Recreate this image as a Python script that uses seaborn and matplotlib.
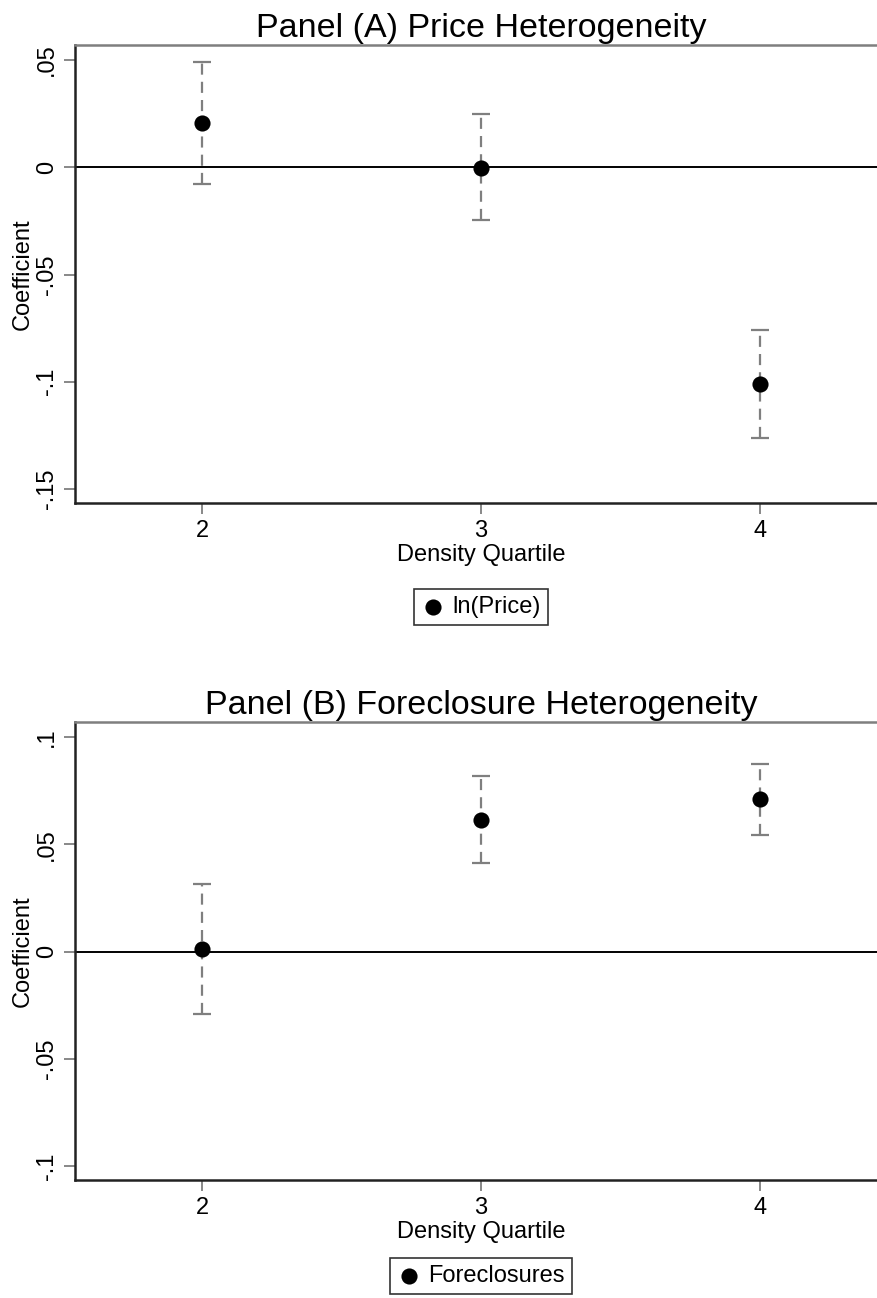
import matplotlib
matplotlib.use("Agg")
import matplotlib.pyplot as plt
import seaborn as sns
import pandas as pd

sns.set_theme(style="white")
plt.rcParams["font.family"] = ["Liberation Sans", "DejaVu Sans"]
plt.rcParams["text.color"] = "black"
plt.rcParams["axes.labelcolor"] = "black"
plt.rcParams["xtick.color"] = "black"
plt.rcParams["ytick.color"] = "black"

# Density quartiles on the x axis
quartiles = [2, 3, 4]

# Panel A: ln(Price) coefficients and 95% confidence bounds
price_coef = [0.0206, -0.0003, -0.1010]
price_lo = [-0.0079, -0.0248, -0.1262]
price_hi = [0.0490, 0.0248, -0.0757]

# Panel B: foreclosure coefficients and 95% confidence bounds
fore_coef = [0.0014, 0.0615, 0.0709]
fore_lo = [-0.0289, 0.0415, 0.0545]
fore_hi = [0.0313, 0.0816, 0.0876]

price_ticks = [0.05, 0.0, -0.05, -0.1, -0.15]
price_ticklabels = [".05", "0", "-.05", "-.1", "-.15"]
fore_ticks = [0.1, 0.05, 0.0, -0.05, -0.1]
fore_ticklabels = [".1", ".05", "0", "-.05", "-.1"]

W, H = 878, 1298
fig = plt.figure(figsize=(W / 100, H / 100), dpi=100)

def px_axes(left, top, right, bottom):
    return fig.add_axes([left / W, 1 - bottom / H, (right - left) / W, (bottom - top) / H])

ax_a = px_axes(75, 45, 887, 503)
ax_b = px_axes(75, 722, 887, 1180)

GRAY = "#7f7f7f"
FS = 17

def draw_panel(ax, coef, lo, hi, label, title, ylim, ticks, ticklabels, leg_y):
    df = pd.DataFrame({"q": quartiles, "coef": coef, "lo": lo, "hi": hi})
    ax.axhline(0, color="black", lw=1.4, zorder=1)
    eb = ax.errorbar(df["q"], df["coef"],
                     yerr=[df["coef"] - df["lo"], df["hi"] - df["coef"]],
                     fmt="none", ecolor=GRAY, elinewidth=1.6, capsize=6.5,
                     capthick=1.6, zorder=2)
    for coll in eb[2]:
        coll.set_linestyle((0, (5, 3.2)))
    sns.scatterplot(data=df, x="q", y="coef", ax=ax, color="black", s=135,
                    edgecolor="black", linewidth=0, label=label, zorder=3)
    ax.set_xlim(1.545, 4.455)
    ax.set_ylim(*ylim)
    ax.set_xticks(quartiles)
    ax.set_xticklabels([str(q) for q in quartiles], fontsize=FS)
    ax.set_yticks(ticks)
    ax.set_yticklabels(ticklabels, fontsize=FS, rotation=90, va="center")
    ax.tick_params(axis="both", direction="out", length=8, width=1.3,
                   color=GRAY, left=True, bottom=True, pad=4)
    for s in ["left", "bottom"]:
        ax.spines[s].set_color("#222222")
        ax.spines[s].set_linewidth(1.8)
    ax.spines["top"].set_color(GRAY)
    ax.spines["top"].set_linewidth(1.8)
    ax.spines["right"].set_visible(False)
    ax.set_xlabel("Density Quartile", fontsize=FS, labelpad=2)
    ax.set_ylabel("Coefficient", fontsize=FS, labelpad=2)
    ax.set_title(title, fontsize=24.5, pad=6)
    leg = ax.legend(loc="upper center", bbox_to_anchor=(0.5, leg_y),
                    fontsize=FS, frameon=True, fancybox=False,
                    edgecolor="black", handletextpad=0.3, borderpad=0.3,
                    handlelength=1.0, markerscale=1.0)
    leg.get_frame().set_linewidth(1.2)

draw_panel(ax_a, price_coef, price_lo, price_hi, "ln(Price)",
           "Panel (A) Price Heterogeneity", (-0.1565, 0.057),
           price_ticks, price_ticklabels, -0.162)
draw_panel(ax_b, fore_coef, fore_lo, fore_hi, "Foreclosures",
           "Panel (B) Foreclosure Heterogeneity", (-0.1065, 0.107),
           fore_ticks, fore_ticklabels, -0.145)

fig.savefig("out.png", dpi=100)
